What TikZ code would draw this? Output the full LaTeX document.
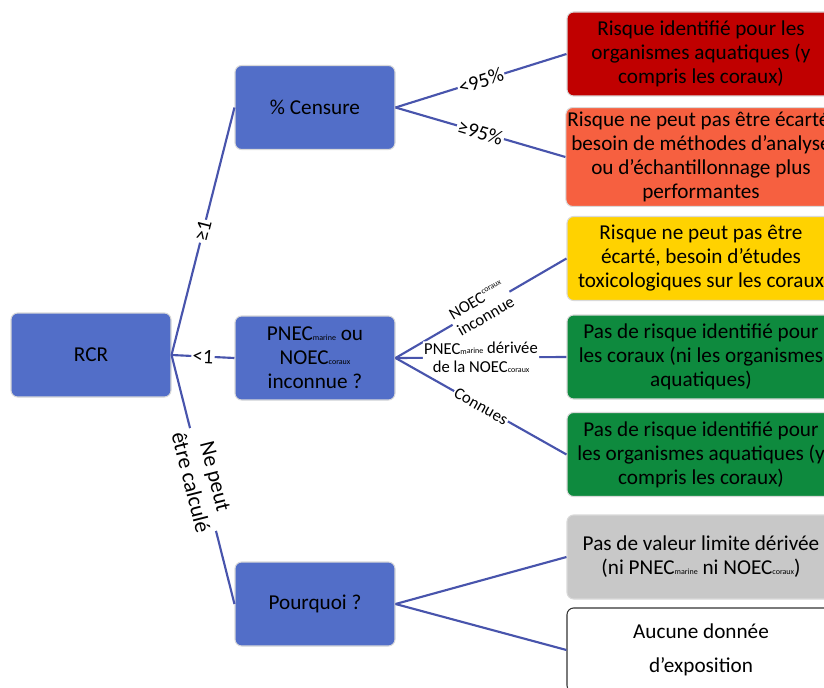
\documentclass[tikz,border=0pt]{standalone}
\usepackage{fontspec}
\setmainfont{Carlito}
\usetikzlibrary{positioning}
\definecolor{rcrblue}{RGB}{82,110,200}
\definecolor{linkblue}{RGB}{72,84,172}
\definecolor{riskred}{RGB}{192,0,0}
\definecolor{riskorange}{RGB}{246,96,64}
\definecolor{riskyellow}{RGB}{255,210,0}
\definecolor{riskgreen}{RGB}{14,138,62}
\definecolor{riskgrey}{RGB}{200,200,200}
\newcommand{\idx}[1]{{\fontsize{6}{6}\selectfont #1}}
\newcommand{\upidx}[1]{\raisebox{0.9ex}{\fontsize{6}{6}\selectfont #1}}

\begin{document}
\begin{tikzpicture}[x=0.75pt, y=-0.75pt,
    question/.style={rectangle, rounded corners=5pt, draw=white!85!black, line width=0.8pt, fill=rcrblue,
                     minimum width=120pt, minimum height=63pt, align=center, inner xsep=1pt,
                     font=\fontsize{15.9}{18}\selectfont, text=black},
    outcome/.style={question, minimum width=201pt},
    link/.style={draw=linkblue, line width=1.6pt},
    cond/.style={fill=white, inner sep=1pt, sloped, align=center, font=\fontsize{15.5}{17}\selectfont},
    smallcond/.style={cond, font=\fontsize{12.5}{14}\selectfont}
]
    \useasboundingbox (0,0) rectangle (824,688);
    \clip (0,0) rectangle (824,688);
    \node[question] (rcr) at (91,355) {RCR};
    \node[question] (censure) at (315,107.5) {\% Censure};
    \node[question] (pnec) at (315,358) {PNEC\idx{marine} ou\\NOEC\idx{coraux}\\inconnue ?};
    \node[question] (pourquoi) at (315,604) {Pourquoi ?};
    \node[outcome, fill=riskred] (identified) at (701,54) {Risque identifié pour les\\organismes aquatiques (y\\compris les coraux)};
    \node[outcome, fill=riskorange, minimum height=70.5pt] (methods) at (701,157) {Risque ne peut pas être écarté,\\besoin de méthodes d’analyse\\ou d’échantillonnage plus\\performantes};
    \node[outcome, fill=riskyellow] (toxico) at (701,258.5) {Risque ne peut pas être\\écarté, besoin d’études\\toxicologiques sur les coraux};
    \node[outcome, fill=riskgreen] (norisk) at (701,357) {Pas de risque identifié pour\\les coraux (ni les organismes\\aquatiques)};
    \node[outcome, fill=riskgreen] (noriskall) at (701,454.5) {Pas de risque identifié pour\\les organismes aquatiques (y\\compris les coraux)};
    \node[outcome, fill=riskgrey] (nolimit) at (701,557) {Pas de valeur limite dérivée\\(ni PNEC\idx{marine} ni NOEC\idx{coraux})};
    \node[outcome, fill=white, draw=black!80, font=\fontsize{15.9}{25}\selectfont] (nodata) at (701,650) {Aucune donnée\\d’exposition};
    \draw[link] (rcr.east) -- node[cond] {≥1} (censure.west);
    \draw[link] (rcr.east) -- node[cond] {<1} (pnec.west);
    \draw[link] (rcr.east) -- node[cond, font=\fontsize{16.5}{19}\selectfont] {Ne peut\\être calculé} (pourquoi.west);
    \draw[link] (censure.east) -- node[cond] {<95\%} (identified.west);
    \draw[link] (censure.east) -- node[cond] {≥95\%} (methods.west);
    \draw[link] (pnec.east) -- node[smallcond] {NOEC\upidx{coraux}\\inconnue} (toxico.west);
    \draw[link] (pnec.east) -- node[smallcond] {PNEC\idx{marine} dérivée\\de la NOEC\idx{coraux}} (norisk.west);
    \draw[link] (pnec.east) -- node[smallcond] {Connues} (noriskall.west);
    \draw[link] (pourquoi.east) -- (nolimit.west);
    \draw[link] (pourquoi.east) -- (nodata.west);
\end{tikzpicture}
\end{document}
